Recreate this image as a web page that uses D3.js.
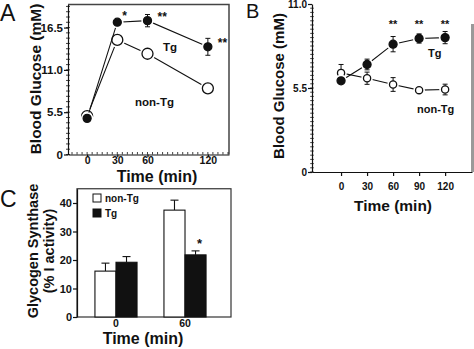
<!DOCTYPE html>
<html>
<head>
<meta charset="utf-8">
<script src="https://cdn.jsdelivr.net/npm/d3@7"></script>
<style>
  body { margin: 0; background: #fff; }
  svg text { font-family: 'Liberation Sans', Arial, Helvetica, sans-serif; fill: #111; }
</style>
</head>
<body>
<div id="chart"></div>
<script>
// Panel A: glucose tolerance
const timesA = [0, 30, 60, 120];
const tgA = [4.7, 17.2, 17.4, 14.0];
const tgErrA = [0.2, 0.4, 0.8, 1.1];
const nonTgA = [5.0, 14.9, 13.1, 8.6];
const nonTgErrA = [0.2, 0.3, 0.6, 0.5];
const sigA = ['', '*', '**', '**'];
const yTicksA = [0, 5.5, 11.0, 16.5];

// Panel B
const timesB = [0, 30, 60, 90, 120];
const tgB = [5.97, 7.04, 8.37, 8.74, 8.8];
const tgErrB = [0.25, 0.35, 0.5, 0.3, 0.4];
const nonTgB = [6.49, 6.14, 5.73, 5.36, 5.4];
const nonTgErrB = [0.55, 0.4, 0.45, 0.1, 0.35];
const sigB = ['', '', '**', '**', '**'];
const yTicksB = [0, 5.5, 11.0];

// Panel C: glycogen synthase
const groupsC = ['0', '60'];
const seriesC = ['non-Tg', 'Tg'];
const valuesC = { 'non-Tg': [16.1, 37.5], 'Tg': [19.2, 21.8] };
const errC = { 'non-Tg': [2.8, 3.5], 'Tg': [2.0, 1.4] };
const sigC = { 'non-Tg': ['', ''], 'Tg': ['', '*'] };
const yTicksC = [0, 10, 20, 30, 40];

const ink = '#111';
const svg = d3.select('#chart').append('svg')
  .attr('width', 474)
  .attr('height', 349);

function minorTicks(g, scale, values, orient, len) {
  g.selectAll(null)
    .data(values)
    .join('line')
    .attr('x1', d => orient === 'y' ? -len : scale(d))
    .attr('x2', d => orient === 'y' ? len : scale(d))
    .attr('y1', d => orient === 'y' ? scale(d) : -len)
    .attr('y2', d => orient === 'y' ? scale(d) : 0)
    .attr('stroke', ink)
    .attr('stroke-width', 0.8);
}

function styleAxis(g, size) {
  g.select('.domain').attr('stroke', ink).attr('stroke-width', 1.2);
  g.selectAll('.tick line').attr('stroke', ink).attr('stroke-width', 1.2);
  g.selectAll('.tick text')
    .attr('font-size', size)
    .attr('font-weight', 'bold')
    .attr('fill', ink);
}

function drawSeries(g, x, y, times, vals, errs, filled, r) {
  const line = d3.line().x((d, i) => x(times[i])).y(d => y(d));
  g.append('path')
    .datum(vals)
    .attr('d', line)
    .attr('fill', 'none')
    .attr('stroke', ink)
    .attr('stroke-width', 1.1);
  // white halo so the line stops short of each marker
  g.selectAll(null)
    .data(vals)
    .join('circle')
    .attr('cx', (d, i) => x(times[i]))
    .attr('cy', d => y(d))
    .attr('r', r + 2.2)
    .attr('fill', '#fff');
  vals.forEach((d, i) => {
    const top = y(d + errs[i]);
    const bot = y(d - errs[i]);
    const cx = x(times[i]);
    g.append('line')
      .attr('x1', cx).attr('x2', cx)
      .attr('y1', top).attr('y2', bot)
      .attr('stroke', ink)
      .attr('stroke-width', 1);
    if (bot - top > 2 * r) {
      [top, bot].forEach(yy => {
        g.append('line')
          .attr('x1', cx - 2.5)
          .attr('x2', cx + 2.5)
          .attr('y1', yy)
          .attr('y2', yy)
          .attr('stroke', ink)
          .attr('stroke-width', 1);
      });
    }
  });
  g.selectAll(null)
    .data(vals)
    .join('circle')
    .attr('cx', (d, i) => x(times[i]))
    .attr('cy', d => y(d))
    .attr('r', r)
    .attr('fill', filled ? ink : '#fff')
    .attr('stroke', ink)
    .attr('stroke-width', 1.3);
}

function drawPanelA() {
  const x = d3.scaleLinear().domain([-19, 141]).range([68, 229]);
  const y = d3.scaleLinear().domain([0, 19.5]).range([154.5, 4.5]);
  const g = svg.append('g').attr('class', 'panel-a');

  g.append('path')
    .attr('d', `M${x(-19)},${y(19.5)}H${x(141)}V${y(0)}`)
    .attr('fill', 'none')
    .attr('stroke', '#444')
    .attr('stroke-width', 1.5);

  const yAxis = g.append('g')
    .attr('transform', `translate(${x(-19)},0)`)
    .call(d3.axisLeft(y).tickValues(yTicksA)
      .tickFormat(d => d === 0 ? '0' : d.toFixed(1))
      .tickSize(4).tickSizeOuter(0).tickPadding(1));
  styleAxis(yAxis, 11.5);
  minorTicks(yAxis, y, d3.range(0, 19.5, 5.5 / 8), 'y', 2);

  const xAxis = g.append('g')
    .attr('transform', `translate(0,${y(0)})`)
    .call(d3.axisBottom(x).tickValues(timesA)
      .tickSize(2.5).tickSizeOuter(0).tickPadding(0));
  styleAxis(xAxis, 10.5);
  minorTicks(xAxis, x, d3.range(-15, 141, 5), 'x', 2.5);

  drawSeries(g, x, y, timesA, nonTgA, nonTgErrA, false, 5.5);
  drawSeries(g, x, y, timesA, tgA, tgErrA, true, 4);

  const offs = [[0, 0], [5, -2], [10, 0], [10, 0]];
  g.selectAll(null)
    .data(sigA)
    .join('text')
    .attr('x', (d, i) => x(timesA[i]) + offs[i][0])
    .attr('y', (d, i) => y(tgA[i]) + offs[i][1])
    .attr('font-size', 12)
    .attr('font-weight', 'bold')
    .text(d => d);

  g.append('text').attr('x', 163).attr('y', 51)
    .attr('font-size', 11.5).attr('font-weight', 'bold').text('Tg');
  g.append('text').attr('x', 135).attr('y', 106)
    .attr('font-size', 11.5).attr('font-weight', 'bold').text('non-Tg');

  g.append('text')
    .attr('transform', 'translate(41,79) rotate(-90)')
    .attr('text-anchor', 'middle')
    .attr('font-size', 15.5)
    .attr('font-weight', 'bold')
    .text('Blood Glucose (mM)');
  g.append('text')
    .attr('x', 157).attr('y', 182)
    .attr('text-anchor', 'middle')
    .attr('font-size', 16)
    .attr('font-weight', 'bold')
    .text('Time (min)');
  g.append('text')
    .attr('x', 0).attr('y', 21)
    .attr('font-size', 23)
    .text('A');
}

function drawPanelB() {
  const x = d3.scaleLinear().domain([-33.5, 151]).range([312, 472]);
  const y = d3.scaleLinear().domain([0, 11]).range([172, 4]);
  const g = svg.append('g').attr('class', 'panel-b');

  g.append('line')
    .attr('x1', 472.5).attr('x2', 472.5)
    .attr('y1', 24).attr('y2', 172)
    .attr('stroke', '#999')
    .attr('stroke-width', 3);

  const yAxis = g.append('g')
    .attr('transform', `translate(${x(-33.5)},0)`)
    .call(d3.axisLeft(y).tickValues(yTicksB)
      .tickFormat(d => d === 0 ? '0' : d.toFixed(1))
      .tickSize(4).tickSizeOuter(0).tickPadding(1));
  styleAxis(yAxis, 10);
  minorTicks(yAxis, y, d3.range(0, 11, 0.275), 'y', 1.8);

  const xAxis = g.append('g')
    .attr('transform', `translate(0,${y(0)})`)
    .call(d3.axisBottom(x).tickValues(timesB)
      .tickSize(4).tickSizeOuter(0).tickPadding(7));
  styleAxis(xAxis, 10);

  drawSeries(g, x, y, timesB, nonTgB, nonTgErrB, false, 3.6);
  drawSeries(g, x, y, timesB, tgB, tgErrB, true, 4);

  g.selectAll(null)
    .data(sigB)
    .join('text')
    .attr('x', (d, i) => x(timesB[i]))
    .attr('y', y(9.4))
    .attr('text-anchor', 'middle')
    .attr('font-size', 11)
    .attr('font-weight', 'bold')
    .text(d => d);

  g.append('text').attr('x', 428).attr('y', 57)
    .attr('font-size', 11).attr('font-weight', 'bold').text('Tg');
  g.append('text').attr('x', 417).attr('y', 113)
    .attr('font-size', 11).attr('font-weight', 'bold').text('non-Tg');

  g.append('text')
    .attr('transform', 'translate(284,86) rotate(-90)')
    .attr('text-anchor', 'middle')
    .attr('font-size', 15)
    .attr('font-weight', 'bold')
    .text('Blood Glucose (mM)');
  g.append('text')
    .attr('x', 393).attr('y', 211)
    .attr('text-anchor', 'middle')
    .attr('font-size', 15.5)
    .attr('font-weight', 'bold')
    .text('Time (min)');
  g.append('text')
    .attr('x', 246).attr('y', 18)
    .attr('font-size', 20)
    .text('B');
}

function drawPanelC() {
  const x = d3.scaleBand().domain(groupsC).range([77, 224])
    .paddingInner(0.39).paddingOuter(0.26);
  const xs = d3.scaleBand().domain(seriesC).range([0, x.bandwidth()]);
  const y = d3.scaleLinear().domain([0, 45]).range([317, 188.75]);
  const fills = { 'non-Tg': '#fff', 'Tg': ink };
  const g = svg.append('g').attr('class', 'panel-c');

  g.append('rect')
    .attr('x', 77).attr('y', y(45))
    .attr('width', 231 - 77).attr('height', y(0) - y(45))
    .attr('fill', 'none')
    .attr('stroke', '#333')
    .attr('stroke-width', 1.2);

  const yAxis = g.append('g')
    .attr('transform', 'translate(77,0)')
    .call(d3.axisLeft(y).tickValues(yTicksC).tickSize(4).tickSizeOuter(0).tickPadding(1));
  styleAxis(yAxis, 11);

  const xAxis = g.append('g')
    .attr('transform', `translate(0,${y(0)})`)
    .call(d3.axisBottom(x).tickSize(0).tickSizeOuter(0).tickPadding(3));
  styleAxis(xAxis, 10.5);
  xAxis.select('.domain').remove();

  const bars = [];
  groupsC.forEach((grp, gi) => {
    seriesC.forEach(s => {
      bars.push({ grp, s, v: valuesC[s][gi], e: errC[s][gi], sig: sigC[s][gi] });
    });
  });
  const bx = d => x(d.grp) + xs(d.s);

  g.selectAll(null)
    .data(bars)
    .join('line')
    .attr('x1', d => bx(d) + xs.bandwidth() / 2)
    .attr('x2', d => bx(d) + xs.bandwidth() / 2)
    .attr('y1', d => y(d.v))
    .attr('y2', d => y(d.v + d.e))
    .attr('stroke', ink)
    .attr('stroke-width', 1.1);
  g.selectAll(null)
    .data(bars)
    .join('line')
    .attr('x1', d => bx(d) + xs.bandwidth() / 2 - 4)
    .attr('x2', d => bx(d) + xs.bandwidth() / 2 + 4)
    .attr('y1', d => y(d.v + d.e))
    .attr('y2', d => y(d.v + d.e))
    .attr('stroke', ink)
    .attr('stroke-width', 1.1);
  g.selectAll(null)
    .data(bars)
    .join('rect')
    .attr('x', d => bx(d))
    .attr('y', d => y(d.v))
    .attr('width', xs.bandwidth())
    .attr('height', d => y(0) - y(d.v))
    .attr('fill', d => fills[d.s])
    .attr('stroke', ink)
    .attr('stroke-width', 1.1);
  g.selectAll(null)
    .data(bars)
    .join('text')
    .attr('x', d => bx(d) + xs.bandwidth() / 2 + 4)
    .attr('y', d => y(d.v + d.e) - 3)
    .attr('text-anchor', 'middle')
    .attr('font-size', 13)
    .attr('font-weight', 'bold')
    .text(d => d.sig);

  const legend = g.append('g').attr('transform', 'translate(93,194)');
  seriesC.forEach((s, i) => {
    legend.append('rect')
      .attr('x', 0).attr('y', i * 15)
      .attr('width', 8).attr('height', 8)
      .attr('fill', fills[s])
      .attr('stroke', ink)
      .attr('stroke-width', 1);
    legend.append('text')
      .attr('x', 12).attr('y', i * 15 + 8)
      .attr('font-size', 10)
      .attr('font-weight', 'bold')
      .text(s);
  });

  g.append('text')
    .attr('transform', 'translate(38,251) rotate(-90)')
    .attr('text-anchor', 'middle')
    .attr('font-size', 14.5)
    .attr('font-weight', 'bold')
    .text('Glycogen Synthase');
  g.append('text')
    .attr('transform', 'translate(54,251) rotate(-90)')
    .attr('text-anchor', 'middle')
    .attr('font-size', 14.5)
    .attr('font-weight', 'bold')
    .text('(% I activity)');
  g.append('text')
    .attr('x', 143).attr('y', 344)
    .attr('text-anchor', 'middle')
    .attr('font-size', 16)
    .attr('font-weight', 'bold')
    .text('Time (min)');
  g.append('text')
    .attr('x', 0).attr('y', 207)
    .attr('font-size', 23)
    .text('C');
}

drawPanelA();
drawPanelB();
drawPanelC();
</script>
</body>
</html>
